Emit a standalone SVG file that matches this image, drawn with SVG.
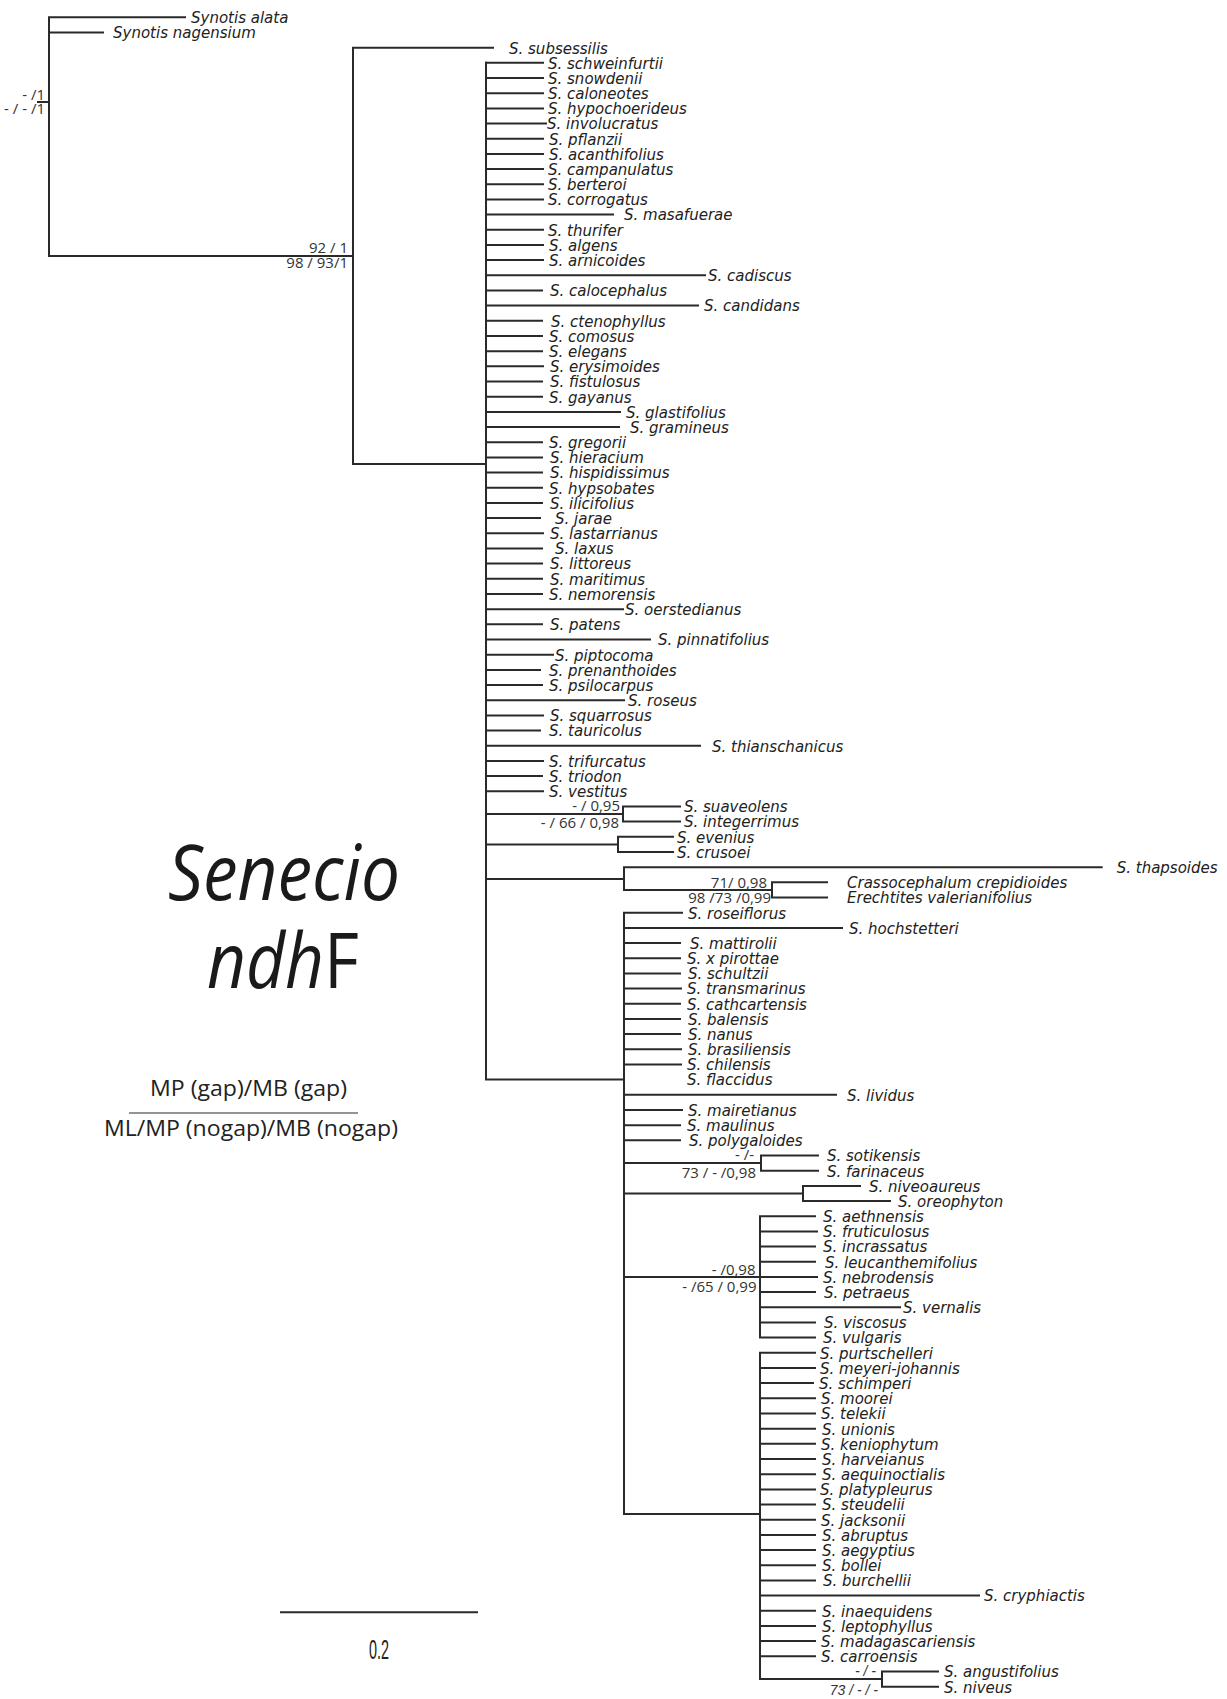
<svg xmlns="http://www.w3.org/2000/svg" width="1227" height="1699" viewBox="0 0 1227 1699">
<style>
.br{fill:none;stroke:#2a2a2a;stroke-width:2;stroke-linecap:square;stroke-linejoin:miter}
.thin{fill:none;stroke:#2a2a2a;stroke-width:1.2}
.sp{font-family:"DejaVu Sans","Liberation Sans",sans-serif;font-style:italic;font-size:15px;fill:#222}
.bs{font-family:"Open Sans","Liberation Sans",sans-serif;font-size:15px;fill:#333;text-anchor:end}
.bsi{font-family:"Liberation Sans",sans-serif;font-style:italic;font-size:14px;fill:#333;text-anchor:end}
.lg{font-family:"Open Sans","Liberation Sans",sans-serif;font-size:21px;fill:#222}
.tt{font-family:"Open Sans","Liberation Sans",sans-serif;font-size:77px;fill:#1a1a1a}
</style>
<rect width="1227" height="1699" fill="#fff"/>
<g id="connectors">
<path class="br" d="M185 17.3H49V256H353M49 32.5H103M38 102H49"/>
<path class="br" d="M493 47.7H353V464H486"/>
<path class="br" d="M486 62.8V1079.6H624"/>
<path class="br" d="M486 62.8H543M486 78H543M486 93.2H543M486 108.4H543M486 123.5H546M486 138.7H543M486 153.9H543M486 169.1H543M486 184.2H543M486 199.4H543M486 214.6H613M486 229.8H543M486 244.9H543M486 260.1H543M486 275.3H705M486 290.5H542M486 305.6H698M486 320.8H542M486 336H542M486 351.2H542M486 366.3H543M486 381.5H542M486 396.7H542M486 411.9H620M486 427.1H619M486 442.2H542M486 457.4H542M486 472.6H542M486 487.8H542M486 502.9H542M486 518.1H540M486 533.3H543M486 548.5H542M486 563.6H542M486 578.8H542M486 594H542M486 609.2H623M486 624.3H542M486 639.5H650M486 654.7H553M486 669.9H540M486 685H542M486 700.2H624M486 715.4H543M486 730.6H540M486 745.7H700M486 760.9H543M486 776.1H542M486 791.3H543"/>
<path class="br" d="M486 814H623M680 806.5H623V821.6H680"/>
<path class="br" d="M486 844.4H618M673 836.8H618V852H673"/>
<path class="br" d="M486 879H624M1101.7 867.2H624V890H772M827 882.3H772V897.5H827"/>
<path class="br" d="M682 912.7H624V1514H760"/>
<path class="br" d="M624 927.9H842M624 943H680M624 958.2H680M624 973.4H680M624 988.6H681M624 1003.7H680M624 1018.9H680M624 1034.1H680M624 1049.3H681M624 1064.4H681M624 1094.8H836M624 1110H682M624 1125.2H680M624 1140.3H680"/>
<path class="br" d="M624 1163.1H761M818 1155.5H761V1170.7H818"/>
<path class="br" d="M624 1193.5H803M860 1185.9H803V1201H890"/>
<path class="br" d="M624 1277H760M815 1216.2H760V1337.6H815M760 1231.4H817M760 1246.6H815M760 1261.7H815M760 1276.9H817M760 1292.1H815M760 1307.3H900M760 1322.4H815"/>
<path class="br" d="M815 1352.8H760V1679.1H882M938 1671.5H882V1686.7H938"/>
<path class="br" d="M760 1368H815M760 1383.1H813M760 1398.3H815M760 1413.5H815M760 1428.7H815M760 1443.8H815M760 1459H815M760 1474.2H815M760 1489.4H815M760 1504.5H815M760 1519.7H815M760 1534.9H815M760 1550.1H815M760 1565.3H815M760 1580.4H815M760 1595.6H979M760 1610.8H815M760 1626H815M760 1641.1H815M760 1656.3H815"/>
</g>
<g id="support">
<text class="bs" x="45" y="100">- /1</text>
<text class="bs" x="45" y="114">- / - /1</text>
<text class="bs" x="348" y="253">92 / 1</text>
<text class="bs" x="348" y="268">98 / 93/1</text>
<text class="bs" x="620" y="811">- / 0,95</text>
<text class="bs" x="619" y="828">- / 66 / 0,98</text>
<text class="bs" x="767" y="888">71/ 0,98</text>
<text class="bs" x="771" y="903">98 /73 /0,99</text>
<text class="bs" x="754" y="1160">- /-</text>
<text class="bs" x="756" y="1178">73 / - /0,98</text>
<text class="bs" x="755.5" y="1275">- /0,98</text>
<text class="bs" x="756.5" y="1292">- /65 / 0,99</text>
<text class="bsi" x="876" y="1676">- / -</text>
<text class="bsi" x="878" y="1695">73 / - / -</text>
</g>
<g id="tips" class="sp">
<text id="t0" x="191" y="23.1">Synotis alata</text>
<text id="t1" x="113" y="38.3">Synotis nagensium</text>
<text id="t2" x="509" y="53.5">S. subsessilis</text>
<text id="t3" x="548" y="68.6">S. schweinfurtii</text>
<text id="t4" x="548" y="83.8">S. snowdenii</text>
<text id="t5" x="548" y="99">S. caloneotes</text>
<text id="t6" x="548" y="114.2">S. hypochoerideus</text>
<text id="t7" x="547" y="129.3">S. involucratus</text>
<text id="t8" x="549" y="144.5">S. pflanzii</text>
<text id="t9" x="549" y="159.7">S. acanthifolius</text>
<text id="t10" x="548" y="174.9">S. campanulatus</text>
<text id="t11" x="548" y="190">S. berteroi</text>
<text id="t12" x="548" y="205.2">S. corrogatus</text>
<text id="t13" x="624" y="220.4">S. masafuerae</text>
<text id="t14" x="548" y="235.6">S. thurifer</text>
<text id="t15" x="549" y="250.7">S. algens</text>
<text id="t16" x="549" y="265.9">S. arnicoides</text>
<text id="t17" x="708" y="281.1">S. cadiscus</text>
<text id="t18" x="550" y="296.3">S. calocephalus</text>
<text id="t19" x="704" y="311.4">S. candidans</text>
<text id="t20" x="551" y="326.6">S. ctenophyllus</text>
<text id="t21" x="549" y="341.8">S. comosus</text>
<text id="t22" x="549" y="357">S. elegans</text>
<text id="t23" x="550" y="372.1">S. erysimoides</text>
<text id="t24" x="550" y="387.3">S. fistulosus</text>
<text id="t25" x="549" y="402.5">S. gayanus</text>
<text id="t26" x="626" y="417.7">S. glastifolius</text>
<text id="t27" x="630" y="432.9">S. gramineus</text>
<text id="t28" x="549" y="448">S. gregorii</text>
<text id="t29" x="550" y="463.2">S. hieracium</text>
<text id="t30" x="550" y="478.4">S. hispidissimus</text>
<text id="t31" x="549" y="493.6">S. hypsobates</text>
<text id="t32" x="550" y="508.7">S. ilicifolius</text>
<text id="t33" x="555" y="523.9">S. jarae</text>
<text id="t34" x="550" y="539.1">S. lastarrianus</text>
<text id="t35" x="555" y="554.3">S. laxus</text>
<text id="t36" x="550" y="569.4">S. littoreus</text>
<text id="t37" x="550" y="584.6">S. maritimus</text>
<text id="t38" x="549" y="599.8">S. nemorensis</text>
<text id="t39" x="625" y="615">S. oerstedianus</text>
<text id="t40" x="550" y="630.1">S. patens</text>
<text id="t41" x="658" y="645.3">S. pinnatifolius</text>
<text id="t42" x="555" y="660.5">S. piptocoma</text>
<text id="t43" x="549" y="675.7">S. prenanthoides</text>
<text id="t44" x="549" y="690.8">S. psilocarpus</text>
<text id="t45" x="628" y="706">S. roseus</text>
<text id="t46" x="550" y="721.2">S. squarrosus</text>
<text id="t47" x="549" y="736.4">S. tauricolus</text>
<text id="t48" x="712" y="751.5">S. thianschanicus</text>
<text id="t49" x="549" y="766.7">S. trifurcatus</text>
<text id="t50" x="549" y="781.9">S. triodon</text>
<text id="t51" x="549" y="797.1">S. vestitus</text>
<text id="t52" x="684" y="812.3">S. suaveolens</text>
<text id="t53" x="684" y="827.4">S. integerrimus</text>
<text id="t54" x="677" y="842.6">S. evenius</text>
<text id="t55" x="677" y="857.8">S. crusoei</text>
<text id="t56" x="1116.7" y="873">S. thapsoides</text>
<text id="t57" x="847" y="888.1">Crassocephalum crepidioides</text>
<text id="t58" x="847" y="903.3">Erechtites valerianifolius</text>
<text id="t59" x="688" y="918.5">S. roseiflorus</text>
<text id="t60" x="849" y="933.7">S. hochstetteri</text>
<text id="t61" x="690" y="948.8">S. mattirolii</text>
<text id="t62" x="687" y="964">S. x pirottae</text>
<text id="t63" x="688" y="979.2">S. schultzii</text>
<text id="t64" x="687" y="994.4">S. transmarinus</text>
<text id="t65" x="687" y="1009.5">S. cathcartensis</text>
<text id="t66" x="688" y="1024.7">S. balensis</text>
<text id="t67" x="688" y="1039.9">S. nanus</text>
<text id="t68" x="688" y="1055.1">S. brasiliensis</text>
<text id="t69" x="687" y="1070.2">S. chilensis</text>
<text id="t70" x="687" y="1085.4">S. flaccidus</text>
<text id="t71" x="847" y="1100.6">S. lividus</text>
<text id="t72" x="688" y="1115.8">S. mairetianus</text>
<text id="t73" x="687" y="1131">S. maulinus</text>
<text id="t74" x="689" y="1146.1">S. polygaloides</text>
<text id="t75" x="827" y="1161.3">S. sotikensis</text>
<text id="t76" x="827" y="1176.5">S. farinaceus</text>
<text id="t77" x="869" y="1191.7">S. niveoaureus</text>
<text id="t78" x="898" y="1206.8">S. oreophyton</text>
<text id="t79" x="823" y="1222">S. aethnensis</text>
<text id="t80" x="823" y="1237.2">S. fruticulosus</text>
<text id="t81" x="823" y="1252.4">S. incrassatus</text>
<text id="t82" x="825" y="1267.5">S. leucanthemifolius</text>
<text id="t83" x="823" y="1282.7">S. nebrodensis</text>
<text id="t84" x="824" y="1297.9">S. petraeus</text>
<text id="t85" x="903" y="1313.1">S. vernalis</text>
<text id="t86" x="824" y="1328.2">S. viscosus</text>
<text id="t87" x="823" y="1343.4">S. vulgaris</text>
<text id="t88" x="820" y="1358.6">S. purtschelleri</text>
<text id="t89" x="820" y="1373.8">S. meyeri-johannis</text>
<text id="t90" x="819" y="1388.9">S. schimperi</text>
<text id="t91" x="821" y="1404.1">S. moorei</text>
<text id="t92" x="821" y="1419.3">S. telekii</text>
<text id="t93" x="822" y="1434.5">S. unionis</text>
<text id="t94" x="821" y="1449.6">S. keniophytum</text>
<text id="t95" x="822" y="1464.8">S. harveianus</text>
<text id="t96" x="822" y="1480">S. aequinoctialis</text>
<text id="t97" x="820" y="1495.2">S. platypleurus</text>
<text id="t98" x="822" y="1510.3">S. steudelii</text>
<text id="t99" x="821" y="1525.5">S. jacksonii</text>
<text id="t100" x="822" y="1540.7">S. abruptus</text>
<text id="t101" x="822" y="1555.9">S. aegyptius</text>
<text id="t102" x="822" y="1571.1">S. bollei</text>
<text id="t103" x="823" y="1586.2">S. burchellii</text>
<text id="t104" x="984" y="1601.4">S. cryphiactis</text>
<text id="t105" x="822" y="1616.6">S. inaequidens</text>
<text id="t106" x="822" y="1631.8">S. leptophyllus</text>
<text id="t107" x="821" y="1646.9">S. madagascariensis</text>
<text id="t108" x="821" y="1662.1">S. carroensis</text>
<text id="t109" x="944" y="1677.3">S. angustifolius</text>
<text id="t110" x="944" y="1692.5">S. niveus</text>
</g>
<g id="title">
<text class="tt" x="168" y="900" font-style="italic" textLength="232" lengthAdjust="spacingAndGlyphs">Senecio</text>
<text class="tt" x="207" y="988" textLength="152" lengthAdjust="spacingAndGlyphs"><tspan font-style="italic">ndh</tspan>F</text>
</g>
<g id="legend">
<text class="lg" x="150" y="1096" textLength="197" lengthAdjust="spacingAndGlyphs">MP (gap)/MB (gap)</text>
<path class="thin" d="M129 1113H358"/>
<text class="lg" x="104" y="1136" textLength="294" lengthAdjust="spacingAndGlyphs">ML/MP (nogap)/MB (nogap)</text>
</g>
<g id="scalebar">
<path class="br" d="M281 1612.3H477"/>
<text x="369" y="1659" font-family="Liberation Sans, sans-serif" font-size="27" fill="#222" textLength="20" lengthAdjust="spacingAndGlyphs">0.2</text>
</g>
</svg>
